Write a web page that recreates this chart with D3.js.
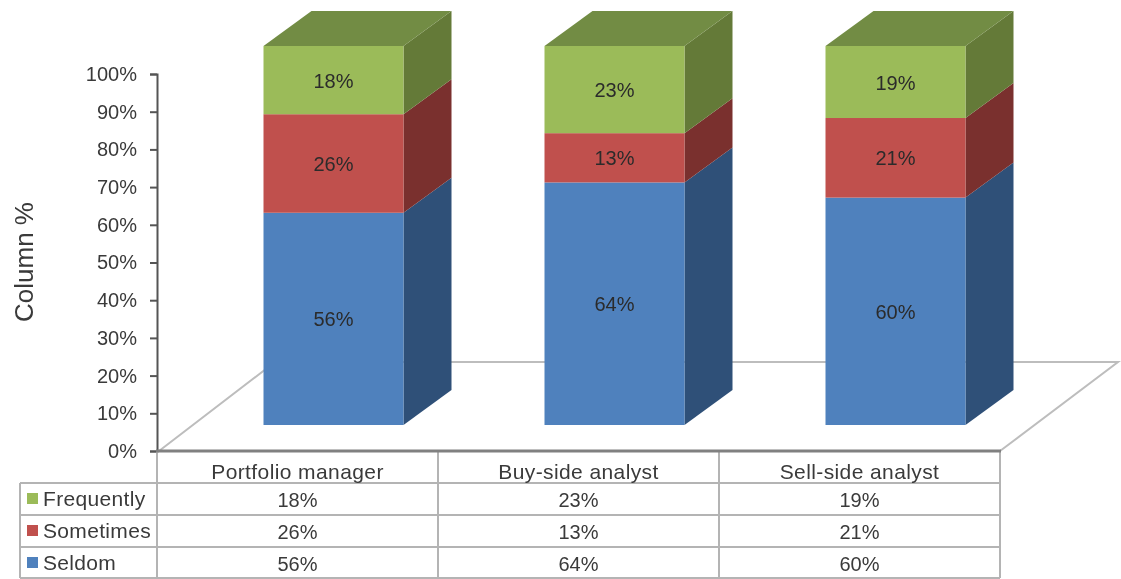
<!DOCTYPE html>
<html><head><meta charset="utf-8">
<style>html,body{margin:0;padding:0;background:#fff}svg{display:block;filter:blur(0.65px)}text{font-family:"Liberation Sans",Arial,sans-serif;fill:#3a3a3a}</style>
<script src="https://cdn.jsdelivr.net/npm/d3@7"></script></head><body>
<svg id="c" width="1121" height="579"></svg>
<script>
const categories = ["Portfolio manager","Buy-side analyst","Sell-side analyst"];
const seriesNames = ["Seldom","Sometimes","Frequently"];
const seldom = [56,64,60];
const sometimes = [26,13,21];
const frequently = [18,23,19];
const yTicks = [0,10,20,30,40,50,60,70,80,90,100];
const frontColors = ["#4f81bd","#c0504d","#9bbb59"];
const sideColors = ["#2f5078","#7a302e","#647a38"];
const topColor = "#728c44";

const svg = d3.select("#c");
const L=157,R=1000,B=451,T=74, DX=118,DY=-89;
const y = d3.scaleLinear().domain([0,100]).range([B,T]);
const yBar = d3.scaleLinear().domain([0,100]).range([425,46]);
const x = d3.scaleBand().domain(categories).range([L,R]);
const barShift=36, bw=140, ddx=48, ddy=-35;
const values=[seldom,sometimes,frequently];
const gridC="#bdbdbd", tableC="#b4b4b4";

// floor
svg.append("path").attr("d",`M${L+2},${B}L${L+DX},${B+DY}L${R+DX},${B+DY}L${R},${B}`)
  .attr("fill","#fff").attr("stroke",gridC).attr("stroke-width",2);

// bars
categories.forEach((c,i)=>{
  const x0=x(c)+(x.bandwidth()-bw)/2+barShift, x1=x0+bw;
  let acc=0;
  values.forEach((vals,s)=>{
    const y0=yBar(acc), y1=yBar(acc+vals[i]); acc+=vals[i];
    svg.append("path").attr("d",`M${x1},${y0}L${x1+ddx},${y0+ddy}L${x1+ddx},${y1+ddy}L${x1},${y1}Z`).attr("fill",sideColors[s]);
    svg.append("rect").attr("x",x0).attr("y",y1).attr("width",bw).attr("height",y0-y1).attr("fill",frontColors[s]);
    svg.append("text").attr("x",(x0+x1)/2).attr("y",(y0+y1)/2+7.5).attr("text-anchor","middle").attr("font-size",20).style("fill","#2b2b2b").text(vals[i]+"%");
    if(s===2) svg.append("path").attr("d",`M${x0},${y1}L${x0+ddx},${y1+ddy}L${x1+ddx},${y1+ddy}L${x1},${y1}Z`).attr("fill",topColor);
  });
});

// y axis
const ax = svg.append("g").attr("transform",`translate(${L},0)`)
  .call(d3.axisLeft(y).tickValues(yTicks).tickFormat(d=>d+"%").tickSize(7).tickPadding(13));
ax.select(".domain").attr("stroke","#555").attr("stroke-width",2);
ax.selectAll(".tick line").attr("stroke","#555").attr("stroke-width",2);
ax.selectAll("text").attr("font-size",20).attr("font-family",null);

svg.append("text").attr("transform","translate(33,262) rotate(-90)").attr("text-anchor","middle").attr("font-size",26).text("Column %");

// data table
const rows=[451,483,515,547,578];
const legendX=20;
const rowData=[frequently,sometimes,seldom];
const rowNames=["Frequently","Sometimes","Seldom"];
const rowColors=[frontColors[2],frontColors[1],frontColors[0]];
const line=(a,b,c,d,col=tableC,w=2)=>svg.append("line").attr("x1",a).attr("y1",b).attr("x2",c).attr("y2",d).attr("stroke",col).attr("stroke-width",w);
x.domain().forEach(c=>line(x(c),B,x(c),rows[4]));
line(R,B,R,rows[4]);
line(legendX,rows[1],legendX,rows[4]);
rows.slice(1).forEach(r=>line(legendX,r,R,r));
line(L-1,B,R+1,B,"#808080",3);
categories.forEach((c,i)=>{
  const cx=x(c)+x.bandwidth()/2;
  svg.append("text").attr("x",cx).attr("y",479).attr("text-anchor","middle").attr("font-size",21).attr("letter-spacing",0.4).text(c);
  rowData.forEach((vals,r)=>svg.append("text").attr("x",cx).attr("y",rows[r+1]+24).attr("text-anchor","middle").attr("font-size",20).text(vals[i]+"%"));
});
rowNames.forEach((n,r)=>{
  svg.append("rect").attr("x",27).attr("y",rows[r+1]+10).attr("width",11).attr("height",11).attr("fill",rowColors[r]);
  svg.append("text").attr("x",43).attr("y",rows[r+1]+23).attr("font-size",21).attr("letter-spacing",0.33).text(n);
});
</script></body></html>
